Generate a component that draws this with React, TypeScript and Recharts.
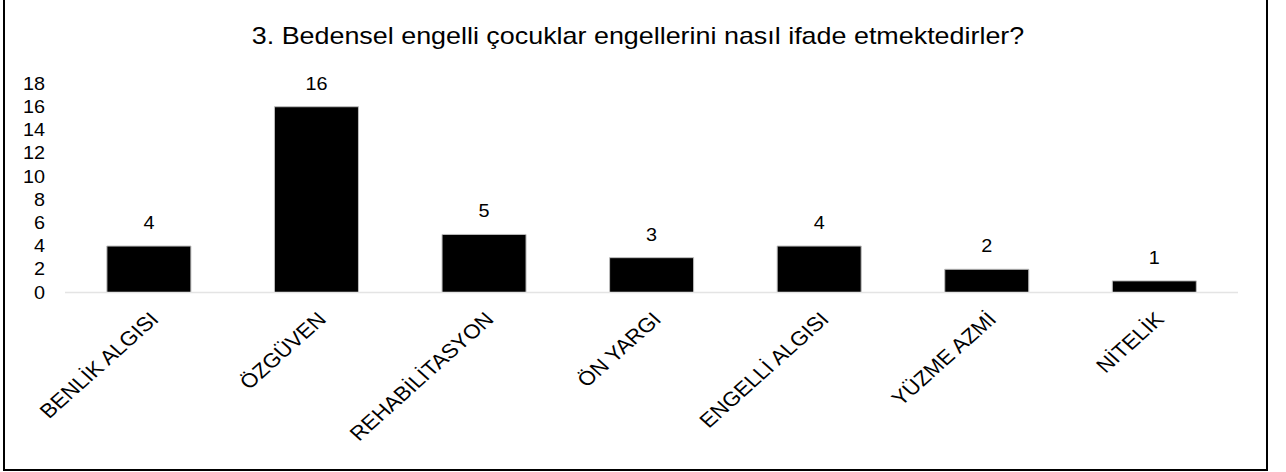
import React from 'react';
import { BarChart, Bar, XAxis, YAxis, LabelList } from 'recharts';

const categories = ['BENLİK ALGISI', 'ÖZGÜVEN', 'REHABİLİTASYON', 'ÖN YARGI', 'ENGELLİ ALGISI', 'YÜZME AZMİ', 'NİTELİK'];
const counts = [4, 16, 5, 3, 4, 2, 1];
const yTicks = [0, 2, 4, 6, 8, 10, 12, 14, 16, 18];
const title = '3. Bedensel engelli çocuklar engellerini nasıl ifade etmektedirler?';

const data = categories.map((name, i) => ({ name, value: counts[i] }));

const FONT = '"Liberation Sans", Arial, sans-serif';
const SX = 1.12;

const YTick = (props: any) => {
  const { x, y, payload } = props;
  return (
    <g transform={`translate(${x},${y}) scale(${SX},1)`}>
      <text x={0} y={0} dy="0.35em" textAnchor="end" fontSize={17.7} fontFamily={FONT} fill="#000">
        {payload.value}
      </text>
    </g>
  );
};

const XTick = (props: any) => {
  const { x, y, payload } = props;
  return (
    <g transform={`translate(${x + 11},${y + 28}) scale(${SX},1) rotate(-45)`}>
      <text x={0} y={0} textAnchor="end" fontSize={20} fontFamily={FONT} fill="#000">
        {payload.value}
      </text>
    </g>
  );
};

const ValueLabel = (props: any) => {
  const { x, y, width, value } = props;
  const cx = Number(x) + Number(width) / 2;
  return (
    <g transform={`translate(${cx},${Number(y) - 17}) scale(${SX},1)`}>
      <text x={0} y={0} textAnchor="middle" fontSize={17.7} fontFamily={FONT} fill="#000">
        {value}
      </text>
    </g>
  );
};

export default function App() {
  return (
    <div style={{ position: 'absolute', left: 0, top: 0, width: 1286, height: 472, background: '#fff', overflow: 'hidden' }}>
      <div
        style={{
          position: 'absolute',
          left: 3,
          top: -2,
          width: 1265,
          height: 473,
          border: '2px solid #000',
          boxSizing: 'border-box',
        }}
      />
      <div
        style={{
          position: 'absolute',
          left: 637.5,
          top: 23.5,
          transform: `translateX(-50%) scaleX(${SX})`,
          fontFamily: FONT,
          fontSize: 24,
          lineHeight: '24px',
          whiteSpace: 'nowrap',
          color: '#000',
        }}
      >
        {title}
      </div>
      <div style={{ position: 'absolute', left: 0, top: 0 }}>
        <BarChart
          width={1286}
          height={472}
          data={data}
          margin={{ top: 83.5, right: 48, bottom: 9.5, left: 0 }}
          barCategoryGap="25%"
        >
          <XAxis
            dataKey="name"
            interval={0}
            height={170}
            tickSize={0}
            tickMargin={0}
            tickLine={false}
            axisLine={{ stroke: '#e4e4e4', strokeWidth: 1.5 }}
            tick={<XTick />}
          />
          <YAxis
            domain={[0, 18]}
            ticks={yTicks}
            width={65}
            tickSize={0}
            tickMargin={20}
            tickLine={false}
            axisLine={false}
            tick={<YTick />}
            interval={0}
          />
          <Bar dataKey="value" fill="#000" stroke="#bdbdbd" strokeWidth={1} isAnimationActive={false}>
            <LabelList dataKey="value" content={<ValueLabel />} />
          </Bar>
        </BarChart>
      </div>
    </div>
  );
}
